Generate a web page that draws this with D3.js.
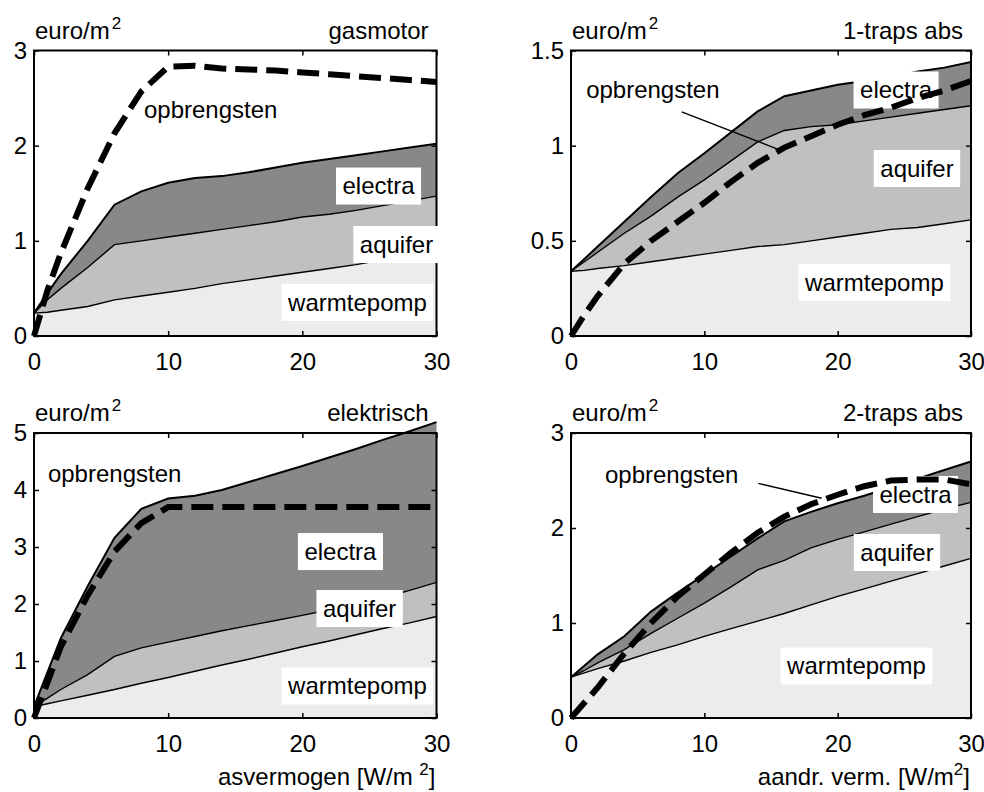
<!DOCTYPE html>
<html lang="nl">
<head>
  <meta charset="UTF-8">
  <title></title>
  <style>
    html, body {
      margin: 0;
      padding: 0;
      overflow: hidden;
      background: white;
    }
    svg {
      display: block;
      font-family: "Liberation Sans", Arial, Helvetica, sans-serif;
    }
  </style>
</head>
<body>
  <svg width="984" height="792"></svg>
<script src="https://d3js.org/d3.v7.min.js"></script>
<script type="text/javascript">
  // x values shared by every panel (W/m2)
  const vermogen = [0, 1, 2, 4, 6, 8, 10, 12, 14, 16, 18, 20, 22, 24, 26, 28, 30]
  const xTicks = [0, 10, 20, 30]

  // gasmotor
  const gasWarmtepomp = [0.24, 0.25, 0.27, 0.31, 0.38, 0.42, 0.46, 0.5, 0.55, 0.59, 0.63, 0.67, 0.71, 0.75, 0.8, 0.84, 0.88]
  const gasAquifer = [0.24, 0.38, 0.5, 0.72, 0.96, 1.0, 1.04, 1.08, 1.12, 1.16, 1.2, 1.25, 1.28, 1.32, 1.37, 1.42, 1.47]
  const gasElectra = [0.24, 0.45, 0.65, 1.0, 1.38, 1.52, 1.61, 1.66, 1.68, 1.72, 1.77, 1.82, 1.86, 1.9, 1.94, 1.98, 2.02]
  const gasOpbrengsten = [0, 0.48, 0.87, 1.55, 2.13, 2.57, 2.83, 2.84, 2.81, 2.8, 2.79, 2.77, 2.75, 2.73, 2.71, 2.69, 2.67]
  const gasTicks = [0, 1, 2, 3]

  // 1-traps absorptie
  const abs1Warmtepomp = [0.34, 0.345, 0.355, 0.37, 0.39, 0.41, 0.43, 0.45, 0.47, 0.48, 0.5, 0.52, 0.54, 0.56, 0.57, 0.59, 0.61]
  const abs1Aquifer = [0.34, 0.39, 0.44, 0.54, 0.63, 0.73, 0.82, 0.92, 1.02, 1.08, 1.1, 1.11, 1.13, 1.15, 1.17, 1.19, 1.21]
  const abs1Electra = [0.34, 0.405, 0.47, 0.6, 0.73, 0.855, 0.96, 1.07, 1.18, 1.26, 1.29, 1.32, 1.34, 1.36, 1.39, 1.41, 1.44]
  const abs1Opbrengsten = [0, 0.11, 0.21, 0.38, 0.5, 0.6, 0.7, 0.81, 0.91, 0.99, 1.05, 1.11, 1.16, 1.2, 1.25, 1.29, 1.34]
  const abs1Ticks = [0, 0.5, 1, 1.5]

  // elektrisch
  const elWarmtepomp = [0.2, 0.25, 0.3, 0.4, 0.5, 0.61, 0.71, 0.82, 0.93, 1.03, 1.14, 1.25, 1.35, 1.46, 1.57, 1.67, 1.78]
  const elAquifer = [0.2, 0.35, 0.5, 0.76, 1.08, 1.23, 1.33, 1.43, 1.53, 1.62, 1.71, 1.8, 1.9, 2.0, 2.11, 2.24, 2.38]
  const elElectra = [0.2, 0.8, 1.4, 2.31, 3.16, 3.67, 3.85, 3.9, 4.0, 4.14, 4.28, 4.42, 4.57, 4.72, 4.88, 5.03, 5.19]
  const elOpbrengsten = [0, 0.62, 1.25, 2.15, 2.92, 3.42, 3.7, 3.7, 3.7, 3.7, 3.7, 3.7, 3.7, 3.7, 3.7, 3.7, 3.7]
  const elTicks = [0, 1, 2, 3, 4, 5]

  // 2-traps absorptie
  const abs2Warmtepomp = [0.43, 0.475, 0.52, 0.6, 0.69, 0.77, 0.86, 0.94, 1.02, 1.1, 1.19, 1.28, 1.36, 1.44, 1.52, 1.6, 1.68]
  const abs2Aquifer = [0.43, 0.5, 0.58, 0.72, 0.89, 1.05, 1.21, 1.38, 1.56, 1.66, 1.79, 1.88, 1.96, 2.04, 2.12, 2.2, 2.27]
  const abs2Electra = [0.43, 0.55, 0.67, 0.86, 1.12, 1.32, 1.51, 1.7, 1.89, 2.07, 2.17, 2.26, 2.34, 2.43, 2.52, 2.61, 2.7]
  const abs2Opbrengsten = [0, 0.16, 0.32, 0.68, 1.0, 1.28, 1.51, 1.74, 1.95, 2.12, 2.25, 2.35, 2.44, 2.5, 2.51, 2.51, 2.46]
  const abs2Ticks = [0, 1, 2, 3]

  const fills = {
    warmtepomp: '#ececec',
    aquifer: '#c0c0c0',
    electra: '#888888'
  }

  const panels = [
    {
      title: 'gasmotor', left: 34, right: 436.5, top: 50.5, bottom: 336, ymax: 3, yTicks: gasTicks,
      wp: gasWarmtepomp, aq: gasAquifer, el: gasElectra, op: gasOpbrengsten,
      labels: [
        { text: 'electra', x: 25.68, y: 1.576, box: true },
        { text: 'aquifer', x: 27.02, y: 0.961, box: true },
        { text: 'warmtepomp', x: 24.11, y: 0.352, box: true },
        { text: 'opbrengsten', x: 13.17, y: 2.378, box: false }
      ],
      pointer: null, xlabel: null
    },
    {
      title: '1-traps abs', left: 571, right: 971, top: 50.5, bottom: 336, ymax: 1.5, yTicks: abs1Ticks,
      wp: abs1Warmtepomp, aq: abs1Aquifer, el: abs1Electra, op: abs1Opbrengsten,
      labels: [
        { text: 'electra', x: 24.38, y: 1.2925, box: true },
        { text: 'aquifer', x: 25.95, y: 0.88, box: true },
        { text: 'warmtepomp', x: 22.76, y: 0.281, box: true },
        { text: 'opbrengsten', x: 6.14, y: 1.294, box: false }
      ],
      pointer: [[8.3, 1.178], [15.68, 0.977]], xlabel: null
    },
    {
      title: 'elektrisch', left: 34, right: 436.5, top: 433, bottom: 718, ymax: 5, yTicks: elTicks,
      wp: elWarmtepomp, aq: elAquifer, el: elElectra, op: elOpbrengsten,
      labels: [
        { text: 'electra', x: 22.84, y: 2.92, box: true },
        { text: 'aquifer', x: 24.27, y: 1.92, box: true },
        { text: 'warmtepomp', x: 24.11, y: 0.561, box: true },
        { text: 'opbrengsten', x: 6.01, y: 4.286, box: false }
      ],
      pointer: null, xlabel: ['asvermogen [W/m ', '2', ']']
    },
    {
      title: '2-traps abs', left: 571, right: 971, top: 433, bottom: 718, ymax: 3, yTicks: abs2Ticks,
      wp: abs2Warmtepomp, aq: abs2Aquifer, el: abs2Electra, op: abs2Opbrengsten,
      labels: [
        { text: 'electra', x: 25.84, y: 2.353, box: true },
        { text: 'aquifer', x: 24.45, y: 1.742, box: true },
        { text: 'warmtepomp', x: 21.41, y: 0.547, box: true },
        { text: 'opbrengsten', x: 7.55, y: 2.564, box: false }
      ],
      pointer: [[14.05, 2.47], [18.8, 2.313]], xlabel: ['aandr. verm. [W/m', '2', ']']
    }
  ]

  const svg = d3.select('svg')

  panels.forEach(p => {
    const x = d3.scaleLinear().domain([0, 30]).range([p.left, p.right])
    const y = d3.scaleLinear().domain([0, p.ymax]).range([p.bottom, p.top])
    const g = svg.append('g')

    const rows = vermogen.map((v, i) => ({
      v: v, wp: p.wp[i], aq: p.aq[i], el: p.el[i], op: p.op[i]
    }))

    // stacked bands
    const band = (lo, hi) => d3.area()
      .x(d => x(d.v))
      .y0(d => lo === null ? y(0) : y(d[lo]))
      .y1(d => y(d[hi]))

    g.append('path').datum(rows).attr('d', band(null, 'wp')).attr('fill', fills.warmtepomp)
    g.append('path').datum(rows).attr('d', band('wp', 'aq')).attr('fill', fills.aquifer)
    g.append('path').datum(rows).attr('d', band('aq', 'el')).attr('fill', fills.electra)

    const edge = key => d3.line().x(d => x(d.v)).y(d => y(d[key]))
    g.append('path').datum(rows).attr('d', edge('wp'))
      .attr('fill', 'none').attr('stroke', '#000').attr('stroke-width', 1.4)
    g.append('path').datum(rows).attr('d', edge('aq'))
      .attr('fill', 'none').attr('stroke', '#000').attr('stroke-width', 1.4)
    g.append('path').datum(rows).attr('d', edge('el'))
      .attr('fill', 'none').attr('stroke', '#000').attr('stroke-width', 2)

    // frame + inward ticks on all four sides
    g.append('rect')
      .attr('x', p.left).attr('y', p.top)
      .attr('width', p.right - p.left).attr('height', p.bottom - p.top)
      .attr('fill', 'none').attr('stroke', '#000').attr('stroke-width', 2)

    const fmt = d3.format('~g')
    const axes = [
      { ax: d3.axisBottom(x).tickValues(xTicks).tickFormat(fmt).tickPadding(17), at: `translate(0,${p.bottom})` },
      { ax: d3.axisTop(x).tickValues(xTicks).tickFormat(() => ''), at: `translate(0,${p.top})` },
      { ax: d3.axisLeft(y).tickValues(p.yTicks).tickFormat(fmt).tickPadding(7), at: `translate(${p.left},0)` },
      { ax: d3.axisRight(y).tickValues(p.yTicks).tickFormat(() => ''), at: `translate(${p.right},0)` }
    ]
    axes.forEach(a => {
      const ag = g.append('g').attr('transform', a.at)
        .call(a.ax.tickSizeInner(-5).tickSizeOuter(0))
      ag.select('.domain').remove()
      ag.selectAll('line').attr('stroke', '#000').attr('stroke-width', 1.5)
      ag.selectAll('text')
        .attr('fill', '#000')
        .style('font-family', '"Liberation Sans", Arial, Helvetica, sans-serif')
        .style('font-size', '24px')
    })

    // unit and title above the frame
    const unit = g.append('text')
      .attr('x', p.left + 1).attr('y', p.top - 12)
      .attr('font-size', 24)
    unit.append('tspan').text('euro/m')
    unit.append('tspan').attr('font-size', 17).attr('dy', -10).attr('dx', 2).text('2')

    g.append('text')
      .attr('x', p.right - 8).attr('y', p.top - 12)
      .attr('text-anchor', 'end').attr('font-size', 24)
      .text(p.title)

    if (p.xlabel) {
      const xl = g.append('text')
        .attr('x', p.right - 1).attr('y', 785)
        .attr('text-anchor', 'end').attr('font-size', 24)
      xl.append('tspan').text(p.xlabel[0])
      xl.append('tspan').attr('font-size', 17).attr('dy', -10).text(p.xlabel[1])
      xl.append('tspan').attr('dy', 10).text(p.xlabel[2])
    }

    if (p.pointer) {
      g.append('line')
        .attr('x1', x(p.pointer[0][0])).attr('y1', y(p.pointer[0][1]))
        .attr('x2', x(p.pointer[1][0])).attr('y2', y(p.pointer[1][1]))
        .attr('stroke', '#000').attr('stroke-width', 1.4)
    }

    // series names, white boxes for the bands
    p.labels.forEach(l => {
      const t = g.append('text')
        .attr('x', x(l.x)).attr('y', y(l.y))
        .attr('dy', '0.35em')
        .attr('text-anchor', 'middle')
        .attr('font-size', 24)
        .text(l.text)
      if (l.box) {
        const w = t.node().getComputedTextLength() + 13
        g.insert('rect', () => t.node())
          .attr('x', x(l.x) - w / 2).attr('y', y(l.y) - 18.5)
          .attr('width', w).attr('height', 37)
          .attr('fill', '#fff')
      }
    })

    // revenue curve on top
    g.append('path').datum(rows)
      .attr('d', edge('op'))
      .attr('fill', 'none')
      .attr('stroke', '#000')
      .attr('stroke-width', 6)
      .attr('stroke-dasharray', '22,9')
  })
</script>
</body>
</html>
